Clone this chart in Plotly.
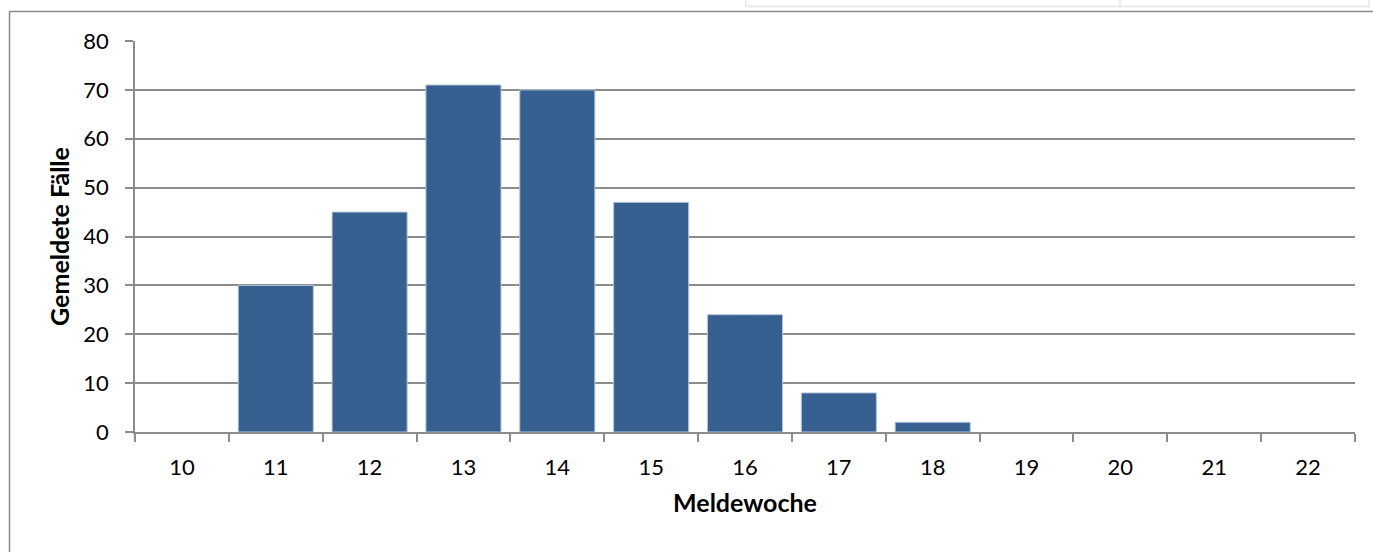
import plotly.graph_objects as go

weeks = ["10", "11", "12", "13", "14", "15", "16", "17", "18", "19", "20", "21", "22"]
cases = [0, 30, 45, 71, 70, 47, 24, 8, 2, 0, 0, 0, 0]
y_ticks = [0, 10, 20, 30, 40, 50, 60, 70, 80]

W, H = 1373, 552
L, R, T, B = 135, 18, 41, 120
pw, ph = W - L - R, H - T - B

def px(x):
    return (x - L) / pw

def py(y):
    return (H - B - y) / ph

fig = go.Figure()
fig.add_trace(go.Bar(
    x=weeks, y=cases,
    marker=dict(color="#36608F",
                line=dict(color="#b4c6dd", width=[1 if v > 0 else 0 for v in cases])),
))

grid = "#8c8c8c"
font = "Lato, Open Sans, sans-serif"
fig.update_layout(
    width=W, height=H,
    margin=dict(l=L, r=R, t=T, b=B),
    paper_bgcolor="white", plot_bgcolor="white",
    bargap=0.2, showlegend=False,
    font=dict(family=font, size=22, color="black"),
    xaxis=dict(
        type="category", tickson="boundaries", ticks="outside", ticklen=8,
        tickcolor=grid, tickwidth=1.5, showline=True, linecolor=grid, linewidth=1.5,
        showgrid=False, tickfont=dict(size=22), ticklabelstandoff=15,
        title=dict(text="<b>Meldewoche</b>", font=dict(size=25), standoff=15),
    ),
    yaxis=dict(
        range=[0, 80], tickvals=y_ticks, ticks="outside", ticklen=8,
        tickcolor=grid, tickwidth=1.5, showline=True, linecolor=grid, linewidth=1.5,
        showgrid=True, gridcolor=grid, gridwidth=1.5, zeroline=False,
        tickfont=dict(size=22), ticklabelstandoff=12,
        title=dict(text="<b>Gemeldete Fälle</b>", font=dict(size=25), standoff=7),
    ),
    shapes=[
        dict(type="rect", xref="paper", yref="paper",
             x0=px(9.5), x1=px(1400), y0=py(600), y1=py(11.5),
             line=dict(color="#8a8a8a", width=1.5), layer="above"),
        dict(type="rect", xref="paper", yref="paper",
             x0=px(746), x1=px(1369), y0=py(6.5), y1=py(-5),
             line=dict(color="#ececec", width=2)),
        dict(type="line", xref="paper", yref="paper",
             x0=px(1120), x1=px(1120), y0=py(6.5), y1=py(-5),
             line=dict(color="#ececec", width=2)),
    ],
)
fig.write_html("out.html")
